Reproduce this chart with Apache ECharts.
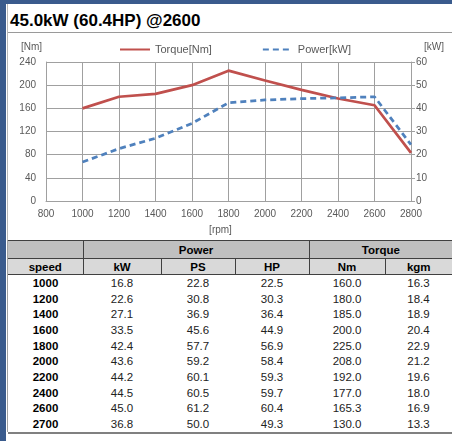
<!DOCTYPE html>
<html>
<head>
<meta charset="utf-8">
<script src="https://cdn.jsdelivr.net/npm/echarts@6/dist/echarts.min.js"></script>
<style>
body { margin:0; width:452px; height:441px; overflow:hidden; background:#fff; position:relative; font-family:"Liberation Sans", Arial, sans-serif; }
#frameTop { position:absolute; left:0; top:0; width:452px; height:4px; background:#3a5b8d; }
#frameLeft { position:absolute; left:0; top:0; width:6px; height:441px; background:#3a5b8d; }
#box { position:absolute; left:7px; top:4px; width:445px; height:236px; border-left:1px solid #b8b8b8; }
#title { position:absolute; left:10px; top:11px; font-size:17px; font-weight:bold; color:#000; white-space:nowrap; }
#titleLine { position:absolute; left:8px; top:32px; width:444px; height:1px; background:#9a9a9a; }
#c1 { position:absolute; left:8px; top:33px; width:444px; height:207px; }
#tbl { position:absolute; left:8px; top:240px; width:444px; border-collapse:collapse; table-layout:fixed; font-size:11.5px; }
#tbl td { padding:0; text-align:center; overflow:hidden; white-space:nowrap; }
#tbl .h1 td { background:#c0c0c0; height:17px; font-weight:bold; border-top:1px solid #404040; border-bottom:1px solid #404040; }
#tbl .h2 td { background:#d9d9d9; height:15px; font-weight:bold; border-bottom:1px solid #404040; border-left:1px solid #404040; }
#tbl .h2 td:first-child, #tbl .h1 td:first-child { border-left:none; }
#tbl .h1 td + td { border-left:1px solid #404040; }
#tbl .d td { height:15.7px; color:#222; }
#tbl .d td:first-child { font-weight:bold; color:#000; }
#tbl .last td { border-bottom:2px solid #808080; }
#tblLeft { position:absolute; left:7px; top:240px; width:1px; height:192px; background:#a0a0a0; }
</style>
</head>
<body>
<div id="frameTop"></div>
<div id="frameLeft"></div>
<div id="box"></div>
<div id="title">45.0kW (60.4HP) @2600</div>
<div id="titleLine"></div>
<div id="c1"></div>
<table id="tbl">
<colgroup><col style="width:75px"><col style="width:78px"><col style="width:74px"><col style="width:74px"><col style="width:76px"><col style="width:67px"></colgroup>
<tbody id="tb"></tbody>
</table>
<div id="tblLeft"></div>
<script>
// chart data
var chartRpm = [1000, 1200, 1400, 1600, 1800, 2000, 2200, 2400, 2600, 2800];
var torqueNm = [160, 180, 185, 200, 225, 208, 192, 177, 165.3, 83];
var powerKw = [16.8, 22.6, 27.1, 33.5, 42.4, 43.6, 44.2, 44.5, 45.0, 24.3];

// table data
var speed = ['1000', '1200', '1400', '1600', '1800', '2000', '2200', '2400', '2600', '2700'];
var kW = ['16.8', '22.6', '27.1', '33.5', '42.4', '43.6', '44.2', '44.5', '45.0', '36.8'];
var PS = ['22.8', '30.8', '36.9', '45.6', '57.7', '59.2', '60.1', '60.5', '61.2', '50.0'];
var HP = ['22.5', '30.3', '36.4', '44.9', '56.9', '58.4', '59.3', '59.7', '60.4', '49.3'];
var Nm = ['160.0', '180.0', '185.0', '200.0', '225.0', '208.0', '192.0', '177.0', '165.3', '130.0'];
var kgm = ['16.3', '18.4', '18.9', '20.4', '22.9', '21.2', '19.6', '18.0', '16.9', '13.3'];

//build table
var html = '<tr class="h1"><td></td><td colspan="3">Power</td><td colspan="2">Torque</td></tr>';
html += '<tr class="h2"><td>speed</td><td>kW</td><td>PS</td><td>HP</td><td>Nm</td><td>kgm</td></tr>';
for (var i = 0; i < speed.length; i++) {
    html += '<tr class="d' + (i == speed.length - 1 ? ' last' : '') + '"><td>' + speed[i] + '</td><td>' + kW[i] + '</td><td>' + PS[i] +
        '</td><td>' + HP[i] + '</td><td>' + Nm[i] + '</td><td>' + kgm[i] + '</td></tr>';
}
document.getElementById('tb').innerHTML = html;

var gridColor = '#a0a0a0';
var txt = { fontFamily: 'Liberation Sans', fontSize: 11, color: '#595959' };

var myChart = echarts.init(document.getElementById('c1'));
var option = {
    animation: false,
    textStyle: { fontFamily: 'Liberation Sans' },
    legend: {
        left: 106,
        top: 6,
        icon: 'inherit',
        itemWidth: 30,
        itemHeight: 10,
        itemGap: 50,
        itemStyle: { opacity: 0 },
        textStyle: txt,
        data: ['Torque[Nm]', 'Power[kW]']
    },
    grid: { left: 38, right: 41, top: 29, bottom: 36 },
    xAxis: {
        type: 'value',
        min: 800,
        max: 2800,
        interval: 200,
        name: '[rpm]',
        nameLocation: 'middle',
        nameGap: 24,
        nameTextStyle: { fontFamily: 'Liberation Sans', fontSize: 10, color: '#595959', padding: [0, 16, 0, 0] },
        axisLine: { show: true, lineStyle: { color: gridColor } },
        axisTick: { show: false },
        axisLabel: { margin: 8, fontFamily: 'Liberation Sans', fontSize: 10, color: '#595959', formatter: function (v) { return String(v); } },
        splitLine: { show: true, lineStyle: { color: gridColor } }
    },
    yAxis: [
        {
            type: 'value',
            min: 0,
            max: 240,
            interval: 40,
            name: '[Nm]',
            nameGap: 10,
            nameTextStyle: { fontFamily: 'Liberation Sans', fontSize: 10, color: '#595959', align: 'right', padding: [0, 4, 0, 0] },
            axisLine: { show: true, lineStyle: { color: gridColor } },
            axisTick: { show: false },
            axisLabel: { margin: 10, fontFamily: 'Liberation Sans', fontSize: 10, color: '#595959' },
            splitLine: { show: true, lineStyle: { color: gridColor } }
        },
        {
            type: 'value',
            min: 0,
            max: 60,
            interval: 10,
            name: '[kW]',
            nameGap: 10,
            nameTextStyle: { fontFamily: 'Liberation Sans', fontSize: 10, color: '#595959', align: 'left', padding: [0, 0, 0, 13] },
            axisLine: { show: true, lineStyle: { color: gridColor } },
            axisTick: { show: true, length: 4, lineStyle: { color: gridColor } },
            axisLabel: { margin: 5, fontFamily: 'Liberation Sans', fontSize: 10, color: '#595959' },
            splitLine: { show: false }
        }
    ],
    series: [
        {
            name: 'Torque[Nm]',
            type: 'line',
            yAxisIndex: 0,
            symbol: 'none',
            itemStyle: { color: '#c0504d' },
            lineStyle: { color: '#c0504d', width: 2.75 },
            data: chartRpm.map(function (r, i) { return [r, torqueNm[i]]; })
        },
        {
            name: 'Power[kW]',
            type: 'line',
            yAxisIndex: 1,
            symbol: 'none',
            itemStyle: { color: '#4f81bd' },
            lineStyle: { color: '#4f81bd', width: 2.75, type: [6, 4] },
            data: chartRpm.map(function (r, i) { return [r, powerKw[i]]; })
        }
    ]
};
myChart.setOption(option, true);
</script>
</body>
</html>
